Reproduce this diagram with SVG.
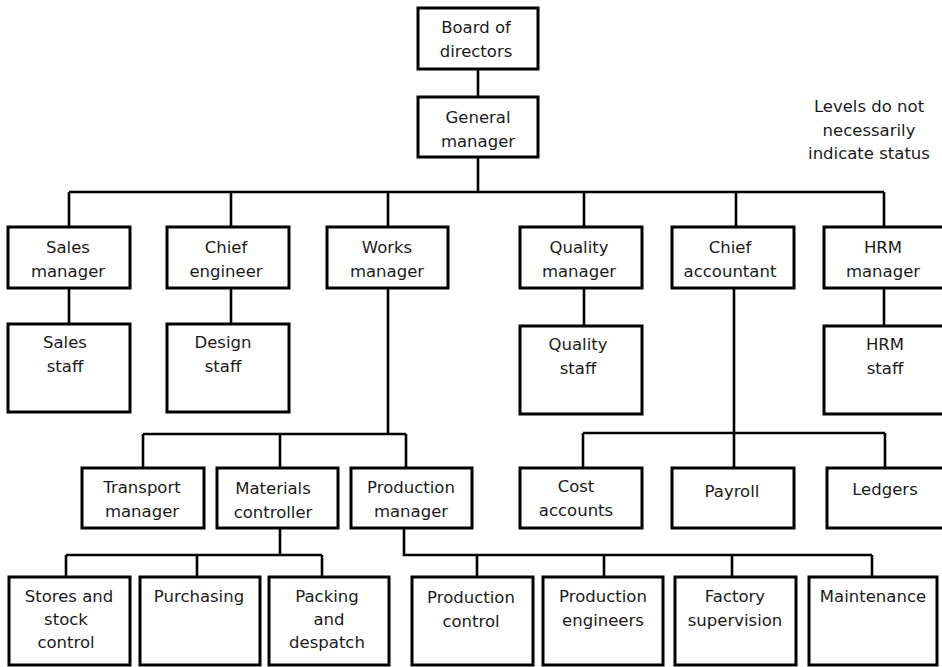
<svg xmlns="http://www.w3.org/2000/svg" width="942" height="667" viewBox="0 0 942 667">
<style>
rect.box{fill:#fff;stroke:#000;stroke-width:3}
#connectors path{fill:none;stroke:#000;stroke-width:2.6}
text{font-family:"DejaVu Sans",Verdana,sans-serif;font-size:16.5px;fill:#1a1a1a;text-anchor:middle}
</style>
<rect width="942" height="667" fill="#fff"/>
<g id="connectors">
<path d="M478 69V97"/>
<path d="M478 157V192M69 192H884M69 192V227M231 192V227M388 192V227M584 192V227M736 192V227M884 192V227"/>
<path d="M69 288V324M231 288V324M584 288V326M884 288V326"/>
<path d="M388 288V434M143 434H406M143 434V468M280 434V468M406 434V468"/>
<path d="M734 288V433M583 433H885M583 433V468M734 433V468M885 433V468"/>
<path d="M280 528V555M66 555H322M66 555V577M197 555V577M322 555V577"/>
<path d="M404 528V555H872M477 555V577M604 555V577M732 555V577M872 555V577"/>
</g>
<g id="board"><rect class="box" x="418" y="8" width="120" height="61"/><text x="476" y="33">Board of</text><text x="476" y="57">directors</text></g>
<g id="gm"><rect class="box" x="418" y="97" width="120" height="60"/><text x="478" y="123">General</text><text x="478" y="147">manager</text></g>
<g id="note"><text x="869" y="112">Levels do not</text><text x="869" y="136">necessarily</text><text x="869" y="159">indicate status</text></g>
<g id="sales-manager"><rect class="box" x="8" y="227" width="122" height="61"/><text x="68" y="253">Sales</text><text x="68" y="277">manager</text></g>
<g id="chief-engineer"><rect class="box" x="167" y="227" width="122" height="61"/><text x="226" y="253">Chief</text><text x="226" y="277">engineer</text></g>
<g id="works-manager"><rect class="box" x="327" y="227" width="121" height="61"/><text x="387" y="253">Works</text><text x="387" y="277">manager</text></g>
<g id="quality-manager"><rect class="box" x="520" y="227" width="122" height="61"/><text x="579" y="253">Quality</text><text x="579" y="277">manager</text></g>
<g id="chief-accountant"><rect class="box" x="672" y="227" width="122" height="61"/><text x="730" y="253">Chief</text><text x="730" y="277">accountant</text></g>
<g id="hrm-manager"><rect class="box" x="824" y="227" width="120" height="61"/><text x="883" y="253">HRM</text><text x="883" y="277">manager</text></g>
<g id="sales-staff"><rect class="box" x="8" y="324" width="122" height="88"/><text x="65" y="348">Sales</text><text x="65" y="372">staff</text></g>
<g id="design-staff"><rect class="box" x="167" y="324" width="122" height="88"/><text x="223" y="348">Design</text><text x="223" y="372">staff</text></g>
<g id="quality-staff"><rect class="box" x="520" y="326" width="122" height="88"/><text x="578" y="350">Quality</text><text x="578" y="374">staff</text></g>
<g id="hrm-staff"><rect class="box" x="824" y="326" width="120" height="88"/><text x="885" y="350">HRM</text><text x="885" y="374">staff</text></g>
<g id="transport-manager"><rect class="box" x="82" y="468" width="122" height="60"/><text x="142" y="493">Transport</text><text x="142" y="517">manager</text></g>
<g id="materials-controller"><rect class="box" x="217" y="468" width="121" height="60"/><text x="273" y="494">Materials</text><text x="273" y="518">controller</text></g>
<g id="production-manager"><rect class="box" x="351" y="468" width="121" height="60"/><text x="411" y="493">Production</text><text x="411" y="517">manager</text></g>
<g id="cost-accounts"><rect class="box" x="520" y="468" width="122" height="60"/><text x="576" y="492">Cost</text><text x="576" y="516">accounts</text></g>
<g id="payroll"><rect class="box" x="672" y="468" width="122" height="60"/><text x="732" y="497">Payroll</text></g>
<g id="ledgers"><rect class="box" x="827" y="468" width="117" height="60"/><text x="885" y="495">Ledgers</text></g>
<g id="stores"><rect class="box" x="9" y="577" width="121" height="88"/><text x="69" y="602">Stores and</text><text x="66" y="625">stock</text><text x="66" y="648">control</text></g>
<g id="purchasing"><rect class="box" x="140" y="577" width="120" height="88"/><text x="199" y="602">Purchasing</text></g>
<g id="packing"><rect class="box" x="269" y="577" width="120" height="88"/><text x="327" y="602">Packing</text><text x="329" y="625">and</text><text x="327" y="648">despatch</text></g>
<g id="production-control"><rect class="box" x="412" y="577" width="121" height="88"/><text x="471" y="603">Production</text><text x="471" y="627">control</text></g>
<g id="production-engineers"><rect class="box" x="543" y="577" width="120" height="88"/><text x="603" y="602">Production</text><text x="603" y="626">engineers</text></g>
<g id="factory-supervision"><rect class="box" x="675" y="577" width="121" height="88"/><text x="735" y="602">Factory</text><text x="735" y="626">supervision</text></g>
<g id="maintenance"><rect class="box" x="809" y="577" width="128" height="88"/><text x="873" y="602">Maintenance</text></g>
</svg>
